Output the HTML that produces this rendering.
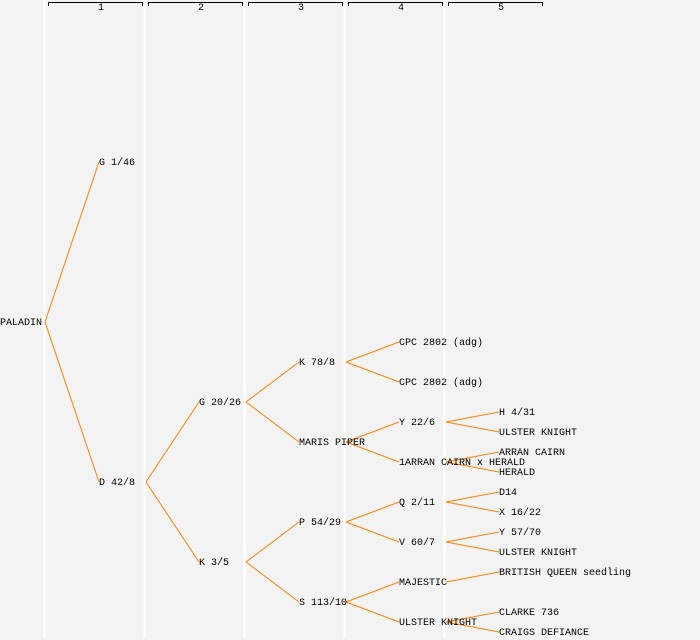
<!DOCTYPE html>
<html><head><style>
html,body{margin:0;padding:0;background:#f3f3f3;}
svg{display:block}
text{font-family:"Liberation Mono","DejaVu Sans Mono",monospace;font-size:10px;fill:#000}
</style></head><body>
<svg width="700" height="640" xmlns="http://www.w3.org/2000/svg">
<rect width="700" height="640" fill="#f3f3f3"/>
<g fill="#ffffff">
<rect x="43.5" y="0" width="2" height="638"/>
<rect x="143.5" y="0" width="2" height="638"/>
<rect x="243.5" y="0" width="2" height="638"/>
<rect x="343.5" y="0" width="2" height="638"/>
<rect x="443.5" y="0" width="2" height="638"/>
</g>
<g stroke="#000" fill="none" stroke-width="1">
<path d="M48.5,6 V2.5 H142.5 V6"/>
<path d="M148.5,6 V2.5 H242.5 V6"/>
<path d="M248.5,6 V2.5 H342.5 V6"/>
<path d="M348.5,6 V2.5 H442.5 V6"/>
<path d="M448.5,6 V2.5 H542.5 V6"/>
</g>
<g text-anchor="middle" style="font-size:8px">
<text x="101" y="10">1</text><text x="201" y="10">2</text><text x="301" y="10">3</text><text x="401" y="10">4</text><text x="501" y="10">5</text>
</g>
<g stroke="#ff8000" stroke-width="1" fill="none">
<path d="M45,322 L99,162 M45,322 L99,482"/>
<path d="M146,482 L199,402 M146,482 L199,562"/>
<path d="M246,402 L299,362 M246,402 L299,442"/>
<path d="M246,562 L299,522 M246,562 L299,602"/>
<path d="M346,362 L399,342 M346,362 L399,382"/>
<path d="M346,442 L399,422 M346,442 L399,462"/>
<path d="M346,522 L399,502 M346,522 L399,542"/>
<path d="M346,602 L399,582 M346,602 L399,622"/>
<path d="M446,422 L499,412 M446,422 L499,432"/>
<path d="M446,462 L499,452 M446,462 L499,472"/>
<path d="M446,502 L499,492 M446,502 L499,512"/>
<path d="M446,542 L499,532 M446,542 L499,552"/>
<path d="M446,582 L499,572"/>
<path d="M446,622 L499,612 M446,622 L499,632"/>
</g>
<g transform="translate(0,-1)">
<text x="0" y="326">PALADIN</text>
<text x="99" y="166">G 1/46</text>
<text x="99" y="486">D 42/8</text>
<text x="199" y="406">G 20/26</text>
<text x="199" y="566">K 3/5</text>
<text x="299" y="366">K 78/8</text>
<text x="299" y="446">MARIS PIPER</text>
<text x="299" y="526">P 54/29</text>
<text x="299" y="606">S 113/10</text>
<text x="399" y="346">CPC 2802 (adg)</text>
<text x="399" y="386">CPC 2802 (adg)</text>
<text x="399" y="426">Y 22/6</text>
<text x="399" y="466">1ARRAN CAIRN x HERALD</text>
<text x="399" y="506">Q 2/11</text>
<text x="399" y="546">V 60/7</text>
<text x="399" y="586">MAJESTIC</text>
<text x="399" y="626">ULSTER KNIGHT</text>
<text x="499" y="416">H 4/31</text>
<text x="499" y="436">ULSTER KNIGHT</text>
<text x="499" y="456">ARRAN CAIRN</text>
<text x="499" y="476">HERALD</text>
<text x="499" y="496">D14</text>
<text x="499" y="516">X 16/22</text>
<text x="499" y="536">Y 57/70</text>
<text x="499" y="556">ULSTER KNIGHT</text>
<text x="499" y="576">BRITISH QUEEN seedling</text>
<text x="499" y="616">CLARKE 736</text>
<text x="499" y="636">CRAIGS DEFIANCE</text>
</g>
</svg>
</body></html>
